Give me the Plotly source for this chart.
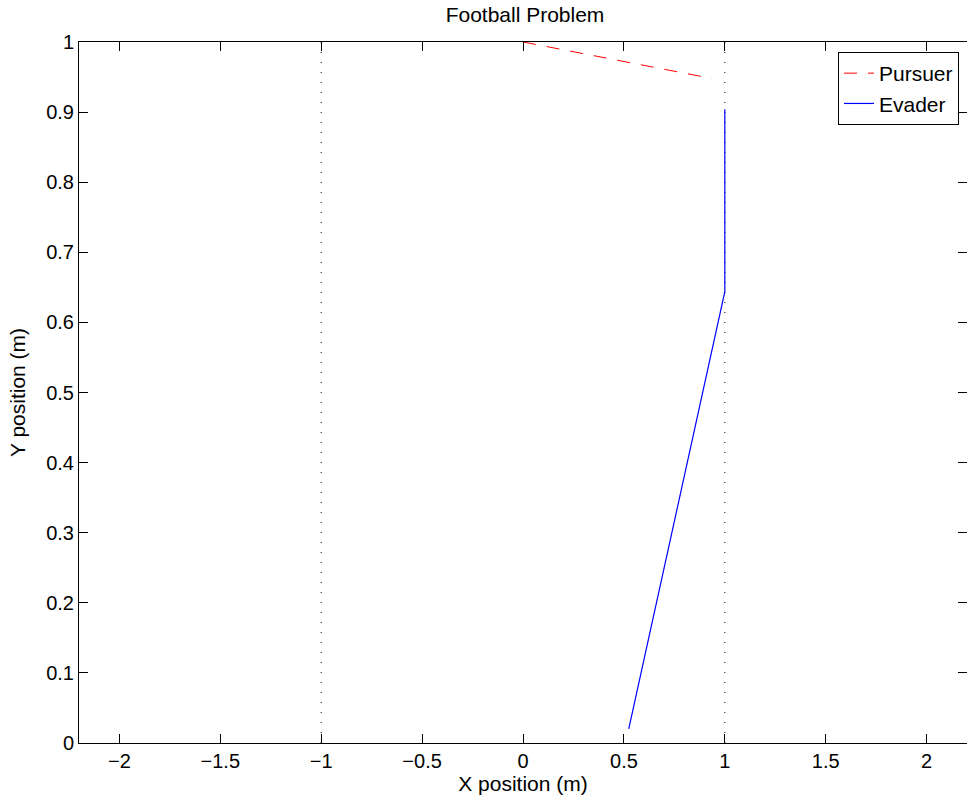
import plotly.graph_objects as go

# Data
pursuer_x = [0.0, 0.935]
pursuer_y = [1.0, 0.948]
evader_x = [0.524, 1.0, 1.0]
evader_y = [0.020, 0.644, 0.904]
boundary_x = [-1.0, 1.0]
boundary_y = [0.0, 1.0]

x_ticks = [-2, -1.5, -1, -0.5, 0, 0.5, 1, 1.5, 2]
x_ticktext = ["\u22122", "\u22121.5", "\u22121", "\u22120.5", "0", "0.5", "1", "1.5", "2"]
y_ticks = [0, 0.1, 0.2, 0.3, 0.4, 0.5, 0.6, 0.7, 0.8, 0.9, 1]
y_ticktext = ["0", "0.1", "0.2", "0.3", "0.4", "0.5", "0.6", "0.7", "0.8", "0.9", "1"]

FONT = "Liberation Sans, Arial, Helvetica, sans-serif"
FS = 21

fig = go.Figure()

for bx in boundary_x:
    fig.add_trace(go.Scatter(
        x=[bx, bx], y=boundary_y, mode="lines",
        line=dict(color="black", width=1, dash="1px,9px"),
        showlegend=False, hoverinfo="skip"))

fig.add_trace(go.Scatter(
    x=pursuer_x, y=pursuer_y, mode="lines", name="Pursuer",
    line=dict(color="red", width=1, dash="13px,11px")))
fig.add_trace(go.Scatter(
    x=evader_x, y=evader_y, mode="lines", name="Evader",
    line=dict(color="blue", width=1.2)))

axis_common = dict(
    showgrid=False, zeroline=False, showline=True, linecolor="black",
    linewidth=1, mirror="ticks", ticks="inside", ticklen=9,
    tickcolor="black", tickwidth=1,
    tickfont=dict(family=FONT, size=20, color="black"),
)

fig.update_layout(
    width=967, height=807,
    margin=dict(l=79, r=0, t=42, b=64),
    paper_bgcolor="white", plot_bgcolor="white",
    font=dict(family=FONT, size=FS, color="black"),
    title=dict(text="Football Problem", x=525 / 967,
               xanchor="center", y=1 - 15 / 807, yanchor="middle",
               font=dict(family=FONT, size=FS, color="black")),
    xaxis=dict(range=[-2.2, 2.2], tickvals=x_ticks, ticktext=x_ticktext,
               title=dict(text="X position (m)", standoff=5,
                          font=dict(family=FONT, size=FS)),
               **axis_common),
    yaxis=dict(range=[0, 1], tickvals=y_ticks, ticktext=y_ticktext,
               title=dict(text="Y position (m)", standoff=14,
                          font=dict(family=FONT, size=FS)),
               **axis_common),
    legend=dict(x=(959 - 79) / 888, xanchor="right", y=1 - 10 / 701.5, yanchor="top",
                bordercolor="black", borderwidth=1, bgcolor="white",
                font=dict(family=FONT, size=FS, color="black"),
                tracegroupgap=0, itemwidth=30),
    showlegend=True,
)

fig.write_html("out.html")
